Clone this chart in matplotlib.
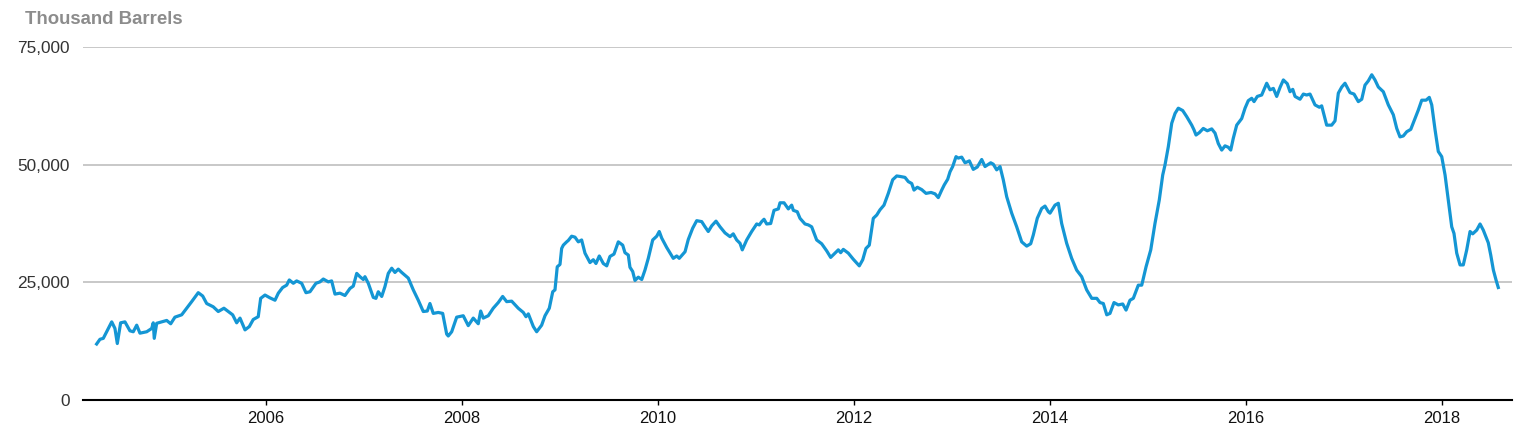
import matplotlib
matplotlib.use("Agg")
import matplotlib.pyplot as plt
from matplotlib.ticker import FuncFormatter

# weekly stocks (decimal year, thousand barrels)
years = [
    2004.272, 2004.306, 2004.340, 2004.374, 2004.426, 2004.459, 2004.483, 2004.517,
    2004.561, 2004.612, 2004.646, 2004.681, 2004.714, 2004.783, 2004.834, 2004.850,
    2004.860, 2004.885, 2004.987, 2005.028, 2005.071, 2005.140, 2005.191, 2005.242,
    2005.309, 2005.354, 2005.395, 2005.462, 2005.513, 2005.571, 2005.615, 2005.660,
    2005.701, 2005.735, 2005.786, 2005.830, 2005.870, 2005.921, 2005.946, 2005.990,
    2006.041, 2006.092, 2006.126, 2006.170, 2006.211, 2006.238, 2006.279, 2006.313,
    2006.364, 2006.408, 2006.449, 2006.510, 2006.551, 2006.585, 2006.636, 2006.670,
    2006.704, 2006.755, 2006.806, 2006.857, 2006.891, 2006.926, 2006.959, 2006.993,
    2007.010, 2007.044, 2007.095, 2007.122, 2007.146, 2007.181, 2007.214, 2007.248,
    2007.283, 2007.316, 2007.350, 2007.385, 2007.452, 2007.503, 2007.554, 2007.605,
    2007.646, 2007.673, 2007.707, 2007.758, 2007.803, 2007.844, 2007.860, 2007.895,
    2007.946, 2008.013, 2008.064, 2008.115, 2008.166, 2008.191, 2008.217, 2008.268,
    2008.319, 2008.370, 2008.415, 2008.456, 2008.507, 2008.574, 2008.626, 2008.653,
    2008.677, 2008.728, 2008.762, 2008.813, 2008.847, 2008.891, 2008.926, 2008.949,
    2008.972, 2009.000, 2009.017, 2009.034, 2009.068, 2009.085, 2009.119, 2009.153,
    2009.187, 2009.221, 2009.255, 2009.306, 2009.340, 2009.367, 2009.401, 2009.442,
    2009.477, 2009.510, 2009.551, 2009.595, 2009.640, 2009.663, 2009.697, 2009.714,
    2009.742, 2009.765, 2009.799, 2009.834, 2009.867, 2009.901, 2009.946, 2009.987,
    2010.013, 2010.038, 2010.089, 2010.156, 2010.191, 2010.217, 2010.276, 2010.309,
    2010.354, 2010.395, 2010.446, 2010.480, 2010.513, 2010.548, 2010.592, 2010.633,
    2010.684, 2010.735, 2010.768, 2010.803, 2010.837, 2010.860, 2010.905, 2010.956,
    2011.007, 2011.034, 2011.058, 2011.082, 2011.109, 2011.150, 2011.184, 2011.228,
    2011.245, 2011.286, 2011.330, 2011.364, 2011.381, 2011.421, 2011.449, 2011.500,
    2011.534, 2011.568, 2011.619, 2011.670, 2011.721, 2011.762, 2011.806, 2011.840,
    2011.864, 2011.891, 2011.942, 2011.993, 2012.054, 2012.089, 2012.122, 2012.156,
    2012.197, 2012.232, 2012.265, 2012.306, 2012.350, 2012.395, 2012.436, 2012.469,
    2012.520, 2012.554, 2012.589, 2012.612, 2012.646, 2012.691, 2012.735, 2012.786,
    2012.827, 2012.860, 2012.895, 2012.921, 2012.956, 2012.980, 2013.007, 2013.041,
    2013.064, 2013.099, 2013.133, 2013.177, 2013.217, 2013.258, 2013.303, 2013.337,
    2013.395, 2013.421, 2013.456, 2013.490, 2013.523, 2013.558, 2013.609, 2013.660,
    2013.711, 2013.762, 2013.803, 2013.830, 2013.870, 2013.915, 2013.949, 2013.983,
    2014.000, 2014.051, 2014.085, 2014.119, 2014.170, 2014.221, 2014.272, 2014.323,
    2014.374, 2014.426, 2014.477, 2014.510, 2014.544, 2014.579, 2014.612, 2014.653,
    2014.697, 2014.742, 2014.776, 2014.816, 2014.850, 2014.901, 2014.936, 2014.980,
    2015.028, 2015.071, 2015.115, 2015.150, 2015.173, 2015.207, 2015.242, 2015.276,
    2015.309, 2015.354, 2015.395, 2015.446, 2015.469, 2015.490, 2015.523, 2015.564,
    2015.605, 2015.650, 2015.684, 2015.717, 2015.752, 2015.786, 2015.819, 2015.844,
    2015.870, 2015.905, 2015.956, 2015.990, 2016.023, 2016.058, 2016.082, 2016.115,
    2016.160, 2016.211, 2016.245, 2016.279, 2016.313, 2016.347, 2016.381, 2016.421,
    2016.449, 2016.477, 2016.500, 2016.551, 2016.585, 2016.619, 2016.653, 2016.704,
    2016.748, 2016.772, 2016.823, 2016.874, 2016.908, 2016.942, 2016.977, 2017.010,
    2017.061, 2017.102, 2017.146, 2017.181, 2017.214, 2017.248, 2017.283, 2017.316,
    2017.350, 2017.401, 2017.452, 2017.503, 2017.538, 2017.571, 2017.605, 2017.640,
    2017.681, 2017.724, 2017.758, 2017.793, 2017.837, 2017.870, 2017.895, 2017.929,
    2017.962, 2017.997, 2018.031, 2018.064, 2018.099, 2018.122, 2018.150, 2018.184,
    2018.217, 2018.252, 2018.286, 2018.313, 2018.354, 2018.388, 2018.421, 2018.472,
    2018.497, 2018.524, 2018.551, 2018.574,
]
stocks = [
    11900, 12900, 13100, 14500, 16600, 15200, 12000, 16400,
    16600, 14700, 14500, 15900, 14200, 14500, 15200, 16400,
    13100, 16300, 16900, 16200, 17600, 18100, 19500, 20900,
    22800, 22100, 20500, 19800, 18800, 19500, 18800, 18100,
    16400, 17400, 14900, 15600, 17100, 17700, 21600, 22300,
    21700, 21200, 22700, 23900, 24400, 25500, 24800, 25300,
    24800, 22800, 23000, 24800, 25100, 25700, 25100, 25300,
    22500, 22700, 22200, 23700, 24200, 26900, 26200, 25600,
    26200, 24800, 21800, 21600, 23000, 22000, 24100, 26900,
    28000, 27100, 27800, 27100, 25900, 23400, 21200, 18800,
    18900, 20500, 18400, 18600, 18400, 14000, 13600, 14500,
    17600, 17900, 15800, 17400, 16200, 18900, 17400, 17900,
    19500, 20700, 22000, 20900, 21000, 19500, 18600, 17700,
    18300, 15600, 14500, 15900, 17900, 19500, 23000, 23400,
    28300, 28800, 32200, 32900, 33600, 33900, 34800, 34600,
    33600, 34000, 31200, 29200, 29800, 29000, 30600, 29000,
    28500, 30500, 31000, 33600, 32900, 31300, 30800, 28200,
    27300, 25400, 26100, 25600, 27600, 30100, 34000, 34800,
    35800, 34400, 32400, 30100, 30600, 30100, 31500, 34100,
    36500, 38100, 37900, 36800, 35800, 37000, 38000, 36800,
    35500, 34700, 35300, 34000, 33300, 31900, 34000, 35800,
    37400, 37200, 37900, 38400, 37400, 37500, 40300, 40600,
    41900, 41900, 40600, 41400, 40300, 40000, 38600, 37400,
    37200, 36800, 34000, 33200, 31700, 30300, 31200, 31900,
    31300, 32000, 31200, 29900, 28500, 29800, 32200, 32900,
    38600, 39300, 40400, 41400, 43900, 46800, 47600, 47500,
    47300, 46400, 46000, 44600, 45200, 44700, 43900, 44100,
    43800, 43000, 44600, 45700, 46900, 48500, 49600, 51700,
    51400, 51600, 50400, 50800, 49000, 49500, 51100, 49600,
    50400, 50100, 48900, 49600, 46800, 43200, 39700, 36800,
    33600, 32700, 33200, 35100, 38600, 40700, 41200, 40000,
    39700, 41400, 41800, 37500, 33300, 30100, 27600, 26200,
    23400, 21600, 21600, 20700, 20500, 18100, 18400, 20700,
    20200, 20400, 19100, 21200, 21600, 24400, 24400, 28300,
    31900, 37500, 42500, 47800, 49900, 53800, 58800, 60900,
    62000, 61500, 60200, 58400, 57400, 56300, 56800, 57700,
    57200, 57600, 56700, 54500, 53100, 54000, 53700, 53100,
    55600, 58400, 59800, 62000, 63600, 64100, 63400, 64500,
    64800, 67300, 65900, 66200, 64500, 66400, 68000, 67200,
    65500, 66000, 64500, 63900, 65000, 64800, 65000, 62700,
    62200, 62500, 58400, 58400, 59300, 65200, 66500, 67300,
    65300, 65000, 63400, 63900, 66900, 67800, 69100, 68000,
    66500, 65500, 62700, 60600, 57700, 55900, 56100, 57000,
    57500, 59800, 61600, 63700, 63700, 64300, 62700, 57400,
    52800, 51700, 47800, 42500, 36800, 35400, 31200, 28700,
    28700, 31900, 35800, 35300, 36100, 37400, 36100, 33400,
    30800, 27600, 25500, 23900,
]

tick_years = [2006, 2008, 2010, 2012, 2014, 2016, 2018]
y_ticks = [0, 25000, 50000, 75000]

plt.rcParams['font.family'] = ['Liberation Sans', 'DejaVu Sans']

fig = plt.figure(figsize=(15.36, 4.3), dpi=100)
ax = fig.add_axes([83 / 1536, 1 - 400 / 430, (1512 - 83) / 1536, (400 - 47) / 430])

ax.plot(years, stocks, color='#1496d4', linewidth=2.3, solid_joinstyle='round')

ax.set_xlim(2004.133, 2018.714)
ax.set_ylim(0, 75000)
ax.set_xticks(tick_years)
ax.set_yticks(y_ticks)
ax.yaxis.set_major_formatter(FuncFormatter(lambda v, p: f"{int(v):,}"))

for v in y_ticks[1:]:
    ax.axhline(v, color='#c4c4c4', linewidth=1.3, zorder=0)

for s in ['top', 'right', 'left']:
    ax.spines[s].set_visible(False)
ax.spines['bottom'].set_color('black')
ax.spines['bottom'].set_linewidth(1.5)

ax.tick_params(axis='y', length=0, pad=9.4, labelsize=12.4, labelcolor='#333333')
ax.tick_params(axis='x', length=3.6, width=1, direction='out', pad=4,
               labelsize=12, labelcolor='#111111')

fig.text(25 / 1536, 1 - 24 / 430, 'Thousand Barrels', fontsize=13.4, fontweight='bold',
         color='#8c8c8c', ha='left', va='baseline')

plt.savefig('out.png', dpi=100)
